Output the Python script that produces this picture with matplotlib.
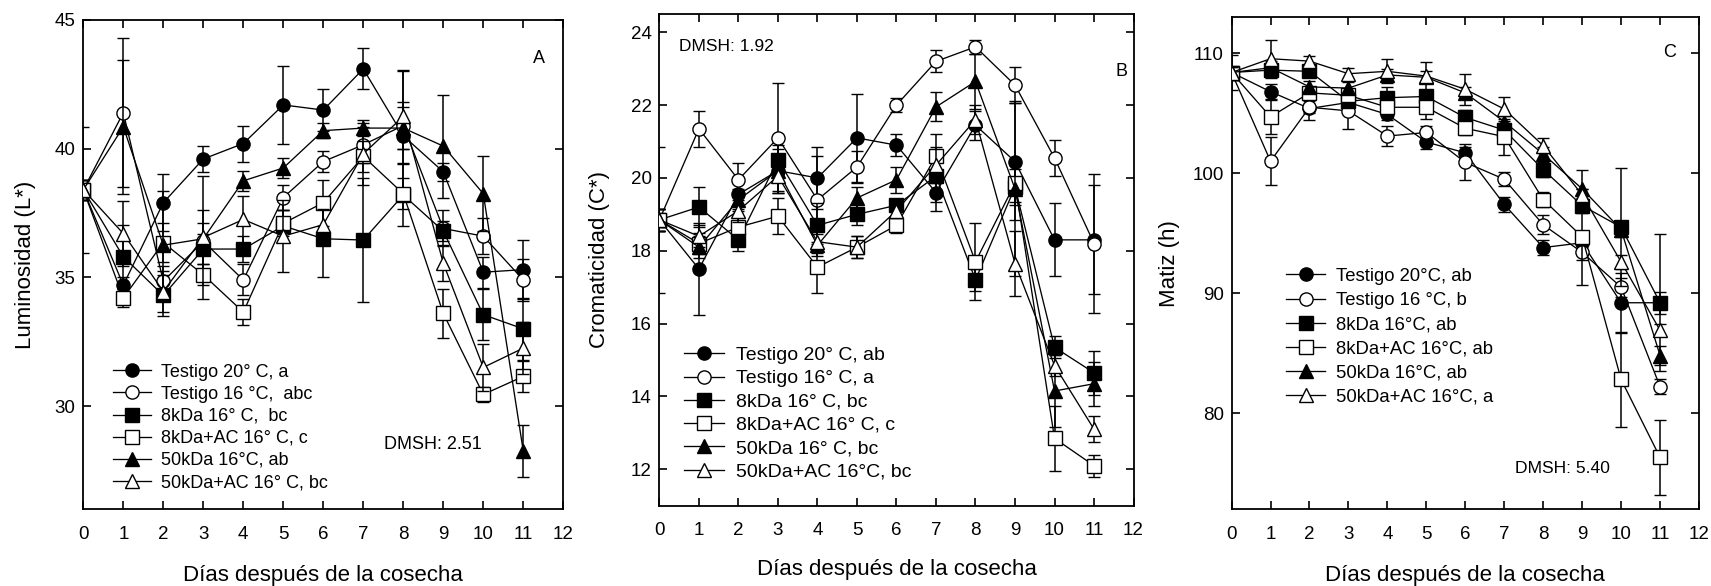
import matplotlib
matplotlib.use("Agg")
import matplotlib.pyplot as plt

plt.rcParams['font.family'] = ['Liberation Sans', 'DejaVu Sans']

dias = list(range(12))
ticks_x = list(range(13))

etiquetas_a = ["Testigo 20° C, a", "Testigo 16 °C,  abc", "8kDa 16° C,  bc",
               "8kDa+AC 16° C, c", "50kDa 16°C, ab", "50kDa+AC 16° C, bc"]
etiquetas_b = ["Testigo 20° C, ab", "Testigo 16° C, a", "8kDa 16° C, bc",
               "8kDa+AC 16° C, c", "50kDa 16° C, bc", "50kDa+AC 16°C, bc"]
etiquetas_c = ["Testigo 20°C, ab", "Testigo 16 °C, b", "8kDa 16°C, ab",
               "8kDa+AC 16°C, ab", "50kDa 16°C, ab", "50kDa+AC 16°C, a"]

# Panel A - Luminosidad (L*)
lum_t20 = [38.4, 34.7, 37.9, 39.6, 40.2, 41.7, 41.5, 43.1, 40.5, 39.1, 35.2, 35.3]
lum_t16 = [38.4, 41.4, 34.85, 36.4, 34.9, 38.1, 39.5, 40.15, 40.9, 36.9, 36.6, 34.9]
lum_8k = [38.4, 35.8, 34.3, 36.1, 36.1, 37.0, 36.5, 36.45, 38.2, 36.8, 33.55, 33.0]
lum_8kac = [38.4, 34.2, 36.35, 35.1, 33.65, 37.1, 37.9, 39.7, 38.25, 33.6, 30.45, 31.15]
lum_50k = [38.4, 40.85, 36.25, 36.5, 38.75, 39.25, 40.7, 40.8, 40.8, 40.1, 38.25, 28.25]
lum_50kac = [38.4, 36.7, 34.45, 36.55, 37.25, 36.6, 37.05, 39.8, 41.25, 35.55, 31.5, 32.25]

err_lum_t20 = [2.45, 0.3, 1.1, 0.5, 0.7, 1.5, 0.8, 0.8, 2.5, 0.35, 0.6, 1.15]
err_lum_t16 = [0.4, 2.9, 0.6, 1.2, 0.6, 0.5, 0.4, 0.7, 0.9, 0.7, 0.7, 0.8]
err_lum_8k = [0.4, 1.25, 0.8, 0.6, 0.5, 0.6, 1.5, 2.4, 1.2, 0.4, 1.0, 1.2]
err_lum_8kac = [0.4, 0.35, 0.75, 0.4, 0.5, 0.5, 0.9, 0.6, 0.6, 0.95, 0.3, 0.6]
err_lum_50k = [0.4, 2.6, 2.1, 0.6, 0.4, 0.4, 0.3, 0.3, 0.8, 2.0, 1.45, 1.0]
err_lum_50kac = [0.4, 1.25, 0.8, 2.4, 0.9, 1.4, 0.6, 1.2, 1.8, 0.7, 0.9, 1.0]

# Panel B - Cromaticidad (C*)
cro_t20 = [18.85, 17.5, 19.55, 20.2, 20.0, 21.1, 20.9, 19.6, 21.45, 20.45, 18.3, 18.3]
cro_t16 = [18.85, 21.35, 19.95, 21.1, 19.4, 20.3, 22.0, 23.2, 23.6, 22.55, 20.55, 18.2]
cro_8k = [18.85, 19.2, 18.3, 20.5, 18.7, 19.0, 19.25, 20.05, 17.2, 19.75, 15.35, 14.65]
cro_8kac = [18.85, 18.2, 18.65, 18.95, 17.55, 18.1, 18.7, 20.6, 17.7, 19.85, 12.85, 12.1]
cro_50k = [18.85, 18.1, 19.4, 20.2, 18.15, 19.45, 19.95, 21.95, 22.65, 19.7, 14.15, 14.35]
cro_50kac = [18.85, 18.4, 19.1, 20.05, 18.25, 18.1, 19.1, 20.35, 21.6, 17.65, 14.85, 13.1]

err_cro_t20 = [2.0, 1.25, 0.4, 0.6, 0.85, 1.2, 0.3, 0.5, 0.4, 1.6, 1.0, 1.5]
err_cro_t16 = [0.3, 0.5, 0.45, 1.5, 1.2, 0.45, 0.2, 0.3, 0.2, 0.5, 0.5, 1.9]
err_cro_8k = [0.3, 0.55, 0.3, 0.4, 0.6, 0.3, 0.15, 0.7, 0.3, 0.5, 0.3, 0.6]
err_cro_8kac = [0.3, 0.3, 0.3, 0.5, 0.7, 0.3, 0.2, 0.6, 1.06, 0.5, 0.9, 0.3]
err_cro_50k = [0.3, 0.3, 0.3, 0.3, 0.3, 0.3, 0.35, 0.4, 0.75, 2.4, 1.0, 0.6]
err_cro_50kac = [0.3, 0.3, 0.3, 0.4, 0.3, 0.3, 0.2, 0.5, 0.4, 0.9, 0.3, 0.35]

# Panel C - Matiz (h)
mat_t20 = [108.4, 106.8, 105.4, 105.9, 104.9, 102.6, 101.7, 97.4, 93.8, 94.2, 89.2, 89.2]
mat_t16 = [108.4, 101.0, 105.5, 105.2, 103.1, 103.4, 100.9, 99.5, 95.7, 93.4, 90.5, 82.2]
mat_8k = [108.4, 108.6, 108.5, 106.0, 106.3, 106.4, 104.65, 103.6, 100.3, 97.3, 95.5, 89.2]
mat_8kac = [108.4, 104.7, 106.7, 106.5, 105.5, 105.5, 103.75, 103.05, 97.8, 94.7, 82.8, 76.3]
mat_50k = [108.4, 108.8, 107.2, 107.1, 108.2, 108.0, 106.7, 104.3, 101.6, 98.7, 95.3, 84.8]
mat_50kac = [108.4, 109.55, 109.35, 108.3, 108.5, 108.1, 107.0, 105.35, 102.3, 98.2, 92.6, 86.9]

err_mat_t20 = [1.5, 0.6, 1.0, 0.6, 0.5, 0.6, 0.5, 0.6, 0.6, 0.6, 2.5, 0.9]
err_mat_t16 = [0.5, 2.0, 0.5, 1.5, 0.8, 0.5, 1.5, 0.6, 0.8, 0.6, 0.8, 0.6]
err_mat_8k = [0.5, 0.6, 0.4, 0.5, 0.9, 0.5, 0.6, 0.6, 0.6, 0.6, 4.9, 5.7]
err_mat_8kac = [0.5, 1.4, 0.5, 0.5, 0.5, 1.0, 0.6, 1.5, 0.6, 4.0, 4.0, 3.1]
err_mat_50k = [0.5, 0.6, 0.5, 0.5, 0.5, 0.5, 0.5, 0.5, 0.6, 1.6, 0.6, 0.8]
err_mat_50kac = [0.5, 1.6, 0.4, 0.5, 1.0, 1.2, 1.3, 1.0, 0.6, 0.5, 0.6, 0.5]

# marcador y relleno de cada tratamiento
estilos = [('o', 'black'), ('o', 'white'), ('s', 'black'),
           ('s', 'white'), ('^', 'black'), ('^', 'white')]


def dibujar_panel(ax, series, errores, etiquetas, ylim, yticks, ylabel,
                  ylabel_x, xlabel_y, leyenda_pos, leyenda_fs, leyenda_esp):
    lineas = []
    for i, (vals, err) in enumerate(zip(series, errores)):
        marcador, relleno = estilos[i]
        cont = ax.errorbar(dias, vals, yerr=err, color='black', lw=0.95,
                           marker=marcador, ms=9.5, mfc=relleno, mec='black',
                           mew=1.0, ecolor='black', elinewidth=1.1,
                           capsize=4.6, capthick=1.1, zorder=3 + i)
        lineas.append(cont.lines[0])

    ax.set_xlim(0, 12)
    ax.set_ylim(*ylim)
    ax.set_xticks(ticks_x)
    ax.set_yticks(yticks)
    ax.tick_params(direction='in', top=True, right=True, length=6, width=1.2,
                   labelsize=13.5)
    ax.tick_params(axis='x', pad=12)
    ax.tick_params(axis='y', pad=5.5)
    for s in ax.spines.values():
        s.set_linewidth(1.3)

    ax.set_xlabel("Días después de la cosecha", fontsize=16)
    ax.xaxis.set_label_coords(0.5, xlabel_y)
    ax.set_ylabel(ylabel, fontsize=16)
    ax.yaxis.set_label_coords(ylabel_x, 0.5)

    ax.legend(lineas, etiquetas, loc='upper left', bbox_to_anchor=leyenda_pos,
              frameon=False, fontsize=leyenda_fs, borderpad=0, borderaxespad=0,
              handlelength=2.1, handletextpad=0.6, labelspacing=leyenda_esp,
              numpoints=1)


fig = plt.figure(figsize=(17.11, 5.86), dpi=100)

ax_a = fig.add_axes([0.0487, 0.1314, 0.2805, 0.8345])
dibujar_panel(ax_a,
              [lum_t20, lum_t16, lum_8k, lum_8kac, lum_50k, lum_50kac],
              [err_lum_t20, err_lum_t16, err_lum_8k, err_lum_8kac, err_lum_50k, err_lum_50kac],
              etiquetas_a, (26, 45), [30, 35, 40, 45], "Luminosidad (L*)",
              -0.0996, -0.114, (0.061, 0.297), 13, 0.28)
ax_a.text(7.52, 28.5, "DMSH: 2.51", fontsize=13, va='center')
ax_a.text(11.24, 43.5, "A", fontsize=13, va='center')

ax_b = fig.add_axes([0.3854, 0.137, 0.2771, 0.839])
dibujar_panel(ax_b,
              [cro_t20, cro_t16, cro_8k, cro_8kac, cro_50k, cro_50kac],
              [err_cro_t20, err_cro_t16, err_cro_8k, err_cro_8kac, err_cro_50k, err_cro_50kac],
              etiquetas_b, (11, 24.5), [12, 14, 16, 18, 20, 22, 24], "Cromaticidad (C*)",
              -0.104, -0.108, (0.051, 0.3236), 14, 0.29)
ax_b.text(0.49, 23.6, "DMSH: 1.92", fontsize=12.5, va='center')
ax_b.text(11.54, 22.92, "B", fontsize=13, va='center')

ax_c = fig.add_axes([0.7198, 0.1314, 0.2732, 0.839])
dibujar_panel(ax_c,
              [mat_t20, mat_t16, mat_8k, mat_8kac, mat_50k, mat_50kac],
              [err_mat_t20, err_mat_t16, err_mat_8k, err_mat_8kac, err_mat_50k, err_mat_50kac],
              etiquetas_c, (72, 113), [80, 90, 100, 110], "Matiz (h)",
              -0.11, -0.113, (0.117, 0.4905), 13.3, 0.39)
ax_c.text(7.27, 75.36, "DMSH: 5.40", fontsize=12.6, va='center')
ax_c.text(11.07, 110.1, "C", fontsize=13, va='center')

plt.savefig("out.png", dpi=100)
